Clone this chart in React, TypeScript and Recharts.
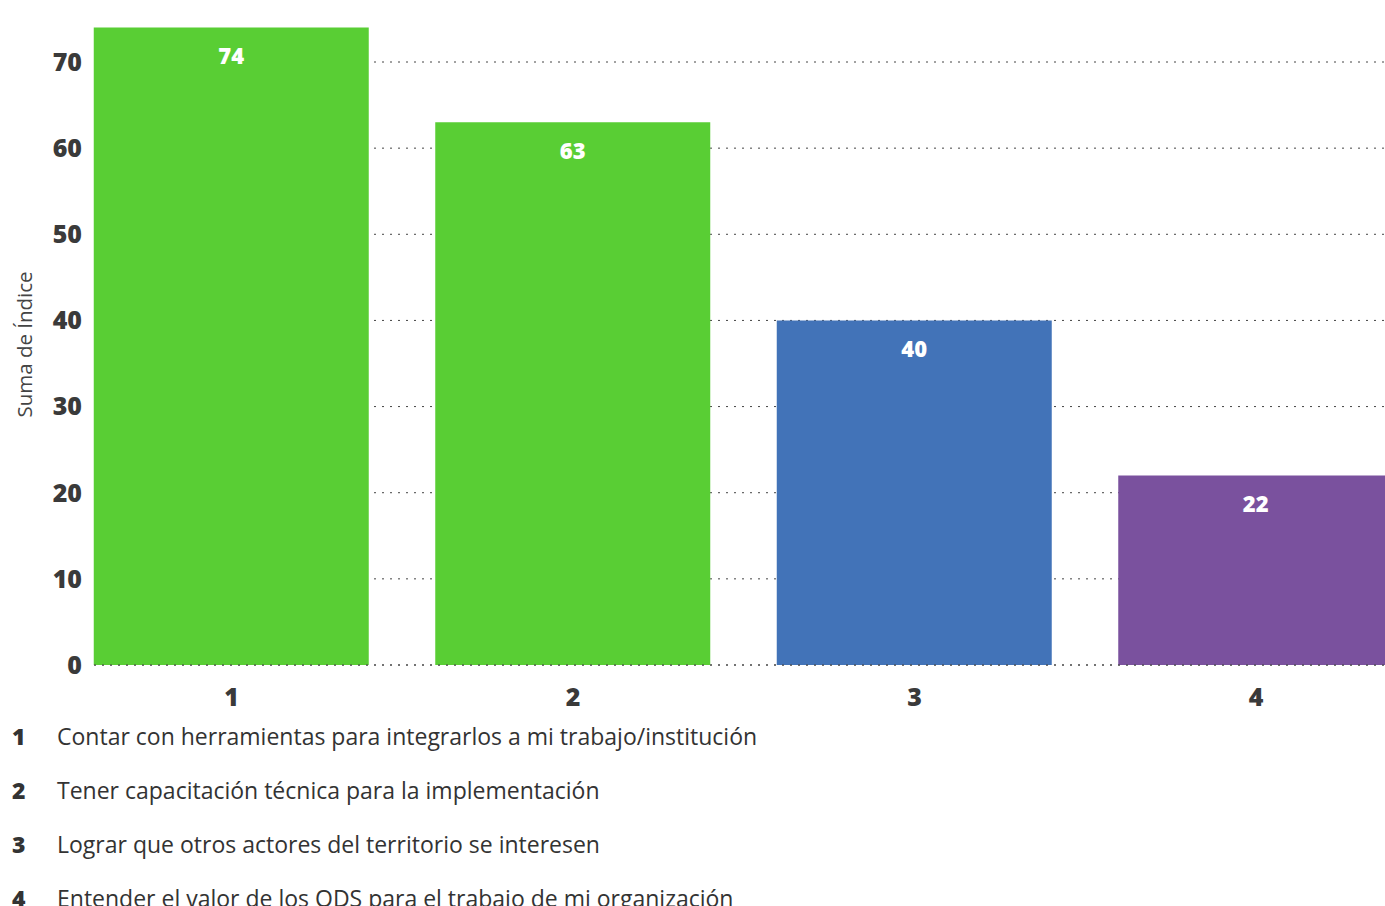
import { BarChart, Bar, XAxis, YAxis, CartesianGrid, Cell, LabelList, ReferenceLine } from "recharts";

// categories (numbered) and their descriptions
const categories = ["1", "2", "3", "4"];
const values = [74, 63, 40, 22];
const descriptions = [
  "Contar con herramientas para integrarlos a mi trabajo/institución",
  "Tener capacitación técnica para la implementación",
  "Lograr que otros actores del territorio se interesen",
  "Entender el valor de los ODS para el trabajo de mi organización",
];
const yTicks = [0, 10, 20, 30, 40, 50, 60, 70];
const barColors = ["#59CE34", "#59CE34", "#4273B8", "#7A519E"];

const FONT = "'Open Sans', Lato, sans-serif";
const TEXT = "#3a3a3a";

const data = categories.map((c, i) => ({ id: c, value: values[i] }));

function YLabel(props: any) {
  const vb = props.viewBox || {};
  const x = 24;
  const y = (vb.y ?? 0) + (vb.height ?? 675) / 2 + 17;
  return (
    <text
      x={x}
      y={y}
      transform={`rotate(-90 ${x} ${y})`}
      textAnchor="middle"
      dominantBaseline="central"
      fontFamily={FONT}
      fontSize={20.5}
      fill="#444"
    >
      Suma de Índice
    </text>
  );
}

export default function App() {
  return (
    <div style={{ position: "absolute", left: 0, top: 0, width: 1385, height: 906, overflow: "hidden", fontFamily: FONT }}>
      {/* chart top sits just above the viewport so the plot's upper edge is cut, as in the source */}
      <div style={{ position: "absolute", left: 0, top: -10 }}>
        <BarChart
          width={1385}
          height={730}
          data={data}
          margin={{ top: 0, right: 0, bottom: 15, left: 0 }}
          barSize={275}
        >
          <CartesianGrid vertical={false} stroke="#444" strokeDasharray="2 6" />
          <XAxis
            dataKey="id"
            height={40}
            axisLine={false}
            tickLine={false}
            tickSize={0}
            tickMargin={23}
            padding={{ left: -33.25, right: -41.75 }}
            tick={{ fill: TEXT, fontSize: 25, fontWeight: 800, fontFamily: FONT }}
          />
          <YAxis
            width={94}
            domain={[0, 78.36]}
            ticks={yTicks}
            axisLine={false}
            tickLine={false}
            tickSize={0}
            tickMargin={12}
            tick={{ fill: TEXT, fontSize: 25, fontWeight: 800, fontFamily: FONT }}
            label={{ content: YLabel }}
          />
          <Bar dataKey="value" isAnimationActive={false}>
            {data.map((d, i) => (
              <Cell key={d.id} fill={barColors[i]} />
            ))}
            <LabelList
              dataKey="value"
              position="insideTop"
              offset={21}
              fill="#fff"
              fontSize={22}
              fontWeight={800}
              fontFamily={FONT}
            />
          </Bar>
          <ReferenceLine y={0} stroke="#444" strokeDasharray="2 6" />
        </BarChart>
      </div>
      <div style={{ position: "absolute", left: 0, top: 709 }}>
        {categories.map((c, i) => (
          <div key={c} style={{ height: 54, display: "flex", alignItems: "center", color: "#333" }}>
            <span style={{ width: 45, paddingLeft: 12, fontWeight: 800, fontSize: 23 }}>{c}</span>
            <span style={{ fontSize: 23, whiteSpace: "nowrap" }}>{descriptions[i]}</span>
          </div>
        ))}
      </div>
    </div>
  );
}
